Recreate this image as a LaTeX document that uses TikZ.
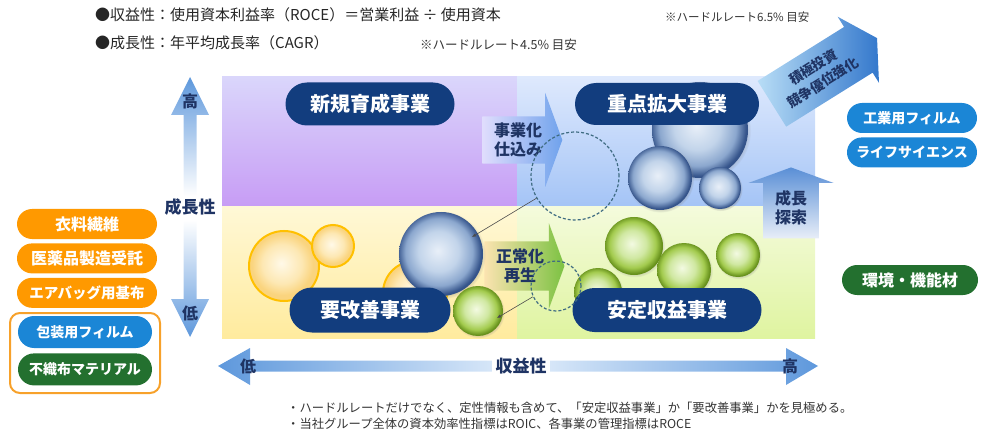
\documentclass[tikz,border=0pt]{standalone}
\usepackage{fontspec}
\setmainfont{Noto Sans CJK JP}
\usetikzlibrary{positioning,shapes.misc,shapes.arrows,shadows,arrows.meta}

\definecolor{navy}{HTML}{123D7E}
\definecolor{txtnavy}{HTML}{1F3464}
\definecolor{pillblue}{HTML}{1B86D6}
\definecolor{pillgreen}{HTML}{23702F}
\definecolor{pillorange}{HTML}{FF9900}
\definecolor{frameorange}{HTML}{F7A12A}
\definecolor{axisblue}{HTML}{5E98DC}
\definecolor{axislight}{HTML}{D6E6F8}
\definecolor{ringteal}{HTML}{3F6C82}
\definecolor{bluehi}{HTML}{E8EFF8}
\definecolor{bluemid}{HTML}{C2D4EA}
\definecolor{blueedge}{HTML}{8BA7CE}
\definecolor{bluerim}{HTML}{34538A}
\definecolor{yelhi}{HTML}{FFF9E8}
\definecolor{yelmid}{HTML}{FDE8B4}
\definecolor{yeledge}{HTML}{FAD47E}
\definecolor{yelrim}{HTML}{FFC000}
\definecolor{grnhi}{HTML}{F3FAE2}
\definecolor{grnmid}{HTML}{D0E8A2}
\definecolor{grnedge}{HTML}{A3CB4E}
\definecolor{grnrim}{HTML}{658F1A}
\definecolor{purpletop}{HTML}{DAD6FB}
\definecolor{purplebot}{HTML}{C79CF5}
\definecolor{skytop}{HTML}{DEE9FD}
\definecolor{skybot}{HTML}{A4C4F6}
\definecolor{creamtop}{HTML}{FFF8D6}
\definecolor{creambot}{HTML}{FFEB9E}
\definecolor{limetop}{HTML}{F4FBDC}
\definecolor{limebot}{HTML}{DFF4A0}
\definecolor{lavender}{HTML}{E0DDFD}
\definecolor{arrowblue}{HTML}{6FA2EC}
\definecolor{peach}{HTML}{FBE3B0}
\definecolor{arrowgreen}{HTML}{7CC242}
\definecolor{mist}{HTML}{E8EEF8}
\definecolor{steelblue}{HTML}{5A8FD6}
\definecolor{paleblue}{HTML}{B8DDF6}
\definecolor{deepblue}{HTML}{3478CC}

\pgfdeclareradialshading{ballblue}{\pgfpoint{-2bp}{2bp}}{color(0bp)=(bluehi); color(12bp)=(bluemid); color(20bp)=(blueedge); color(25bp)=(bluerim); color(50bp)=(bluerim)}
\pgfdeclareradialshading{ballyellow}{\pgfpoint{-2bp}{2bp}}{color(0bp)=(yelhi); color(14bp)=(yelmid); color(22bp)=(yeledge); color(25bp)=(yeledge); color(50bp)=(yeledge)}
\pgfdeclareradialshading{ballgreen}{\pgfpoint{-2bp}{2bp}}{color(0bp)=(grnhi); color(12bp)=(grnmid); color(20bp)=(grnedge); color(25bp)=(grnrim); color(50bp)=(grnrim)}

\tikzstyle{navypill} = [rounded rectangle, fill=navy, text=white, inner sep=0pt,
    font=\fontsize{20pt}{20pt}\selectfont\bfseries]
\tikzstyle{sidepill} = [rounded rectangle, text=white, inner sep=0pt,
    minimum height=30pt, font=\fontsize{14pt}{14pt}\selectfont\bfseries]
\tikzstyle{blockarrow} = [single arrow, single arrow tip angle=140, inner sep=0pt,
    text=txtnavy, align=center, font=\fontsize{16pt}{19pt}\selectfont\bfseries]
\tikzstyle{axislabel} = [text=txtnavy, inner sep=0pt, font=\fontsize{16pt}{16pt}\selectfont\bfseries]
\tikzstyle{bubbleblue} = [circle, inner sep=0pt, shading=ballblue,
    circular drop shadow={shadow scale=1.05, shadow xshift=.6pt, shadow yshift=-1pt, opacity=.45}]
\tikzstyle{bubbleyellow} = [circle, inner sep=0pt, shading=ballyellow, draw=yelrim, line width=2pt]
\tikzstyle{bubblegreen} = [circle, inner sep=0pt, shading=ballgreen,
    circular drop shadow={shadow scale=1.05, shadow xshift=.6pt, shadow yshift=-1pt, opacity=.35}]
\tikzstyle{dashring} = [circle, inner sep=0pt, draw=ringteal, line width=1.2pt, dash pattern=on 3pt off 2pt]
\tikzstyle{pointer} = [draw=black!70, line width=.6pt, -{Latex[length=4pt,width=3.5pt]}]
\tikzstyle{headline} = [anchor=west, inner sep=0pt, text=black!85, font=\fontsize{15pt}{15pt}\selectfont]
\tikzstyle{hurdle} = [anchor=west, inner sep=0pt, text=black!80, font=\fontsize{11.5pt}{11.5pt}\selectfont]
\tikzstyle{note} = [anchor=west, inner sep=0pt, text=black!80, font=\fontsize{12.3pt}{12.3pt}\selectfont]

\begin{document}
\begin{tikzpicture}[x=1pt, y=-1pt]
    \useasboundingbox (0,0) rectangle (986,433);

    \node[headline] (roce) at (95,15) {●収益性：使用資本利益率（ROCE）＝営業利益 ÷ 使用資本};
    \node[hurdle] (roceh) at (665,17) {※ハードルレート6.5\% 目安};
    \node[headline] (cagr) at (95,43) {●成長性：年平均成長率（CAGR）};
    \node[hurdle, font=\fontsize{12.5pt}{12.5pt}\selectfont] (cagrh) at (420,45) {※ハードルレート4.5\% 目安};

    % quadrants
    \shade[top color=purpletop, bottom color=purplebot] (222,77) rectangle (517,207);
    \shade[top color=skytop, bottom color=skybot] (517,77) rectangle (815,207);
    \shade[top color=creamtop, bottom color=creambot] (222,207) rectangle (517,338);
    \shade[top color=limetop, bottom color=limebot] (517,207) rectangle (815,338);

    % axes
    \shade[top color=axisblue, bottom color=white] (190,77) -- (209,115) -- (196.5,115) -- (196.5,196)
        -- (183.5,196) -- (183.5,115) -- (171,115) -- cycle;
    \shade[top color=white, bottom color=axisblue] (183.5,220) -- (196.5,220) -- (196.5,299) -- (209,299)
        -- (190,337) -- (171,299) -- (183.5,299) -- cycle;
    \shade[left color=axisblue, right color=axislight] (218,366) -- (250,348) -- (250,360.5) -- (492,360.5)
        -- (492,371.5) -- (250,371.5) -- (250,385) -- cycle;
    \shade[left color=axislight, right color=axisblue] (550,360.5) -- (786,360.5) -- (786,348) -- (818,366)
        -- (786,385) -- (786,371.5) -- (550,371.5) -- cycle;
    \node[axislabel] (vhigh) at (190,101) {高};
    \node[axislabel, font=\fontsize{17pt}{17pt}\selectfont\bfseries] (vname) at (190,207) {成長性};
    \node[axislabel] (vlow) at (190,313) {低};
    \node[axislabel] (hlow) at (248,366) {低};
    \node[axislabel, font=\fontsize{17pt}{17pt}\selectfont\bfseries] (hname) at (521,366) {収益性};
    \node[axislabel] (hhigh) at (790,366) {高};

    % block arrows
    \node[blockarrow, minimum height=80pt, minimum width=94pt, single arrow head extend=17pt,
        left color=lavender, right color=arrowblue] (shikomi) at (518,140) {事業化\\仕込み};
    \node[blockarrow, minimum height=80pt, minimum width=86pt, single arrow head extend=13pt,
        left color=peach, right color=arrowgreen] (saisei) at (520,266) {正常化\\再生};
    \node[blockarrow, shape border rotate=90, minimum height=71pt, minimum width=85pt, single arrow head extend=8.5pt,
        bottom color=mist, top color=steelblue] (tansaku) at (791,208) {成長\\探索};
    \node[blockarrow, rotate=32, minimum height=124pt, minimum width=78pt, single arrow head extend=7pt,
        single arrow tip angle=121, font=\fontsize{13.5pt}{18pt}\selectfont\bfseries,
        left color=paleblue, right color=deepblue] (kyoka) at (818,75) {積極投資\\競争優位強化};

    % bubbles
    \node[bubbleblue, minimum size=96pt] (bigblue) at (700,130) {};
    \node[bubbleblue, minimum size=64pt] (midblue) at (660,178) {};
    \node[bubbleblue, minimum size=42pt] (smallblue) at (720,188) {};
    \node[bubbleyellow, minimum size=70pt] (bigyellow) at (284,266) {};
    \node[bubbleyellow, minimum size=42pt] (smallyellow) at (333,246) {};
    \node[bubbleyellow, minimum size=64pt] (backyellow) at (415,293) {};
    \node[bubbleblue, minimum size=84pt] (lowblue) at (441,254) {};
    \node[bubblegreen, minimum size=50pt] (lowgreen) at (478,311) {};
    \node[bubblegreen, minimum size=48pt] (gsmall) at (598,292) {};
    \node[bubblegreen, minimum size=58pt] (gbig) at (634,246) {};
    \node[bubblegreen, minimum size=54pt] (gmid) at (684,270) {};
    \node[bubblegreen, minimum size=44pt] (gright) at (738,255) {};

    % business pills
    \node[navypill, minimum width=169pt, minimum height=43pt] (shinki) at (370,104) {新規育成事業};
    \node[navypill, minimum width=184pt, minimum height=42pt] (juten) at (667,104) {重点拡大事業};
    \node[navypill, minimum width=161pt, minimum height=45pt] (kaizen) at (370,310) {要改善事業};
    \node[navypill, minimum width=189pt, minimum height=44pt] (antei) at (667,310) {安定収益事業};

    \node[dashring, minimum size=88pt] (ringtop) at (575,176) {};
    \node[dashring, minimum size=50pt] (ringbot) at (556,286) {};
    \coordinate (tipblue) at (472,237);
    \coordinate (tipgreen) at (497,318);
    \draw[pointer] (ringtop.210) -- (tipblue);
    \draw[pointer] (ringbot.205) -- (tipgreen);

    % segments
    \node[sidepill, fill=pillblue, minimum width=130pt] (kogyo) at (912,118) {工業用フィルム};
    \node[sidepill, fill=pillblue, minimum width=130pt, below=4pt of kogyo] (life) {ライフサイエンス};
    \node[sidepill, fill=pillgreen, minimum width=136pt, font=\fontsize{16pt}{16pt}\selectfont\bfseries]
        (kankyo) at (910,280) {環境・機能材};

    \node[sidepill, fill=pillorange, minimum width=140pt, font=\fontsize{16pt}{16pt}\selectfont\bfseries]
        (iryo) at (87,224) {衣料繊維};
    \node[sidepill, fill=pillorange, minimum width=140pt, font=\fontsize{16pt}{16pt}\selectfont\bfseries,
        below=4pt of iryo] (iyaku) {医薬品製造受託};
    \node[sidepill, fill=pillorange, minimum width=140pt, font=\fontsize{14.5pt}{14.5pt}\selectfont\bfseries,
        below=4pt of iyaku] (airbag) {エアバッグ用基布};
    \draw[frameorange, line width=2pt, rounded corners=10pt] (10,313) rectangle (160,393);
    \node[sidepill, fill=pillblue, minimum width=134pt, minimum height=32pt] (hoso) at (85,332) {包装用フィルム};
    \node[sidepill, fill=pillgreen, minimum width=134pt, minimum height=32pt, below=5pt of hoso] (fushoku) {不織布マテリアル};

    \node[note] (note1) at (287,408) {・ハードルレートだけでなく、定性情報も含めて、「安定収益事業」か「要改善事業」かを見極める。};
    \node[note] (note2) at (287,424) {・当社グループ全体の資本効率性指標はROIC、各事業の管理指標はROCE};
\end{tikzpicture}
\end{document}
